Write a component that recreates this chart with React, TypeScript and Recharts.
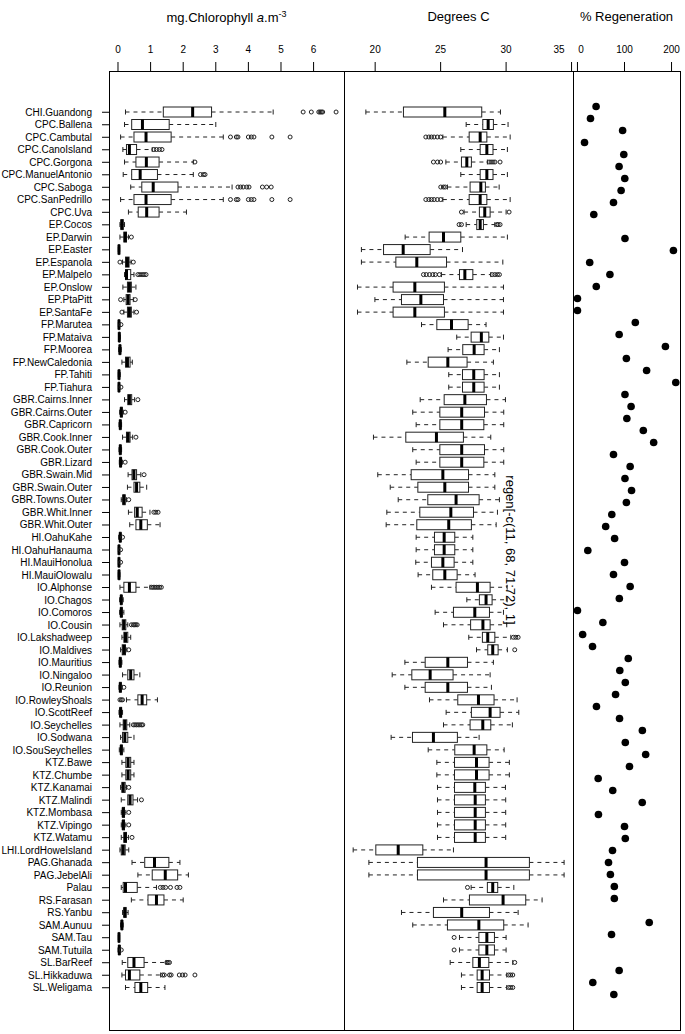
import React from 'react';
import { Bar, ComposedChart, Scatter, ScatterChart, XAxis, YAxis } from 'recharts';

const FONT = '"Liberation Sans", Arial, Helvetica, sans-serif';
const INK = '#222';

const sites = [
  'CHI.Guandong', 'CPC.Ballena', 'CPC.Cambutal', 'CPC.CanoIsland', 'CPC.Gorgona', 'CPC.ManuelAntonio',
  'CPC.Saboga', 'CPC.SanPedrillo', 'CPC.Uva',
  'EP.Cocos', 'EP.Darwin', 'EP.Easter', 'EP.Espanola', 'EP.Malpelo', 'EP.Onslow', 'EP.PtaPitt', 'EP.SantaFe',
  'FP.Marutea', 'FP.Mataiva', 'FP.Moorea', 'FP.NewCaledonia', 'FP.Tahiti', 'FP.Tiahura',
  'GBR.Cairns.Inner', 'GBR.Cairns.Outer', 'GBR.Capricorn', 'GBR.Cook.Inner', 'GBR.Cook.Outer', 'GBR.Lizard',
  'GBR.Swain.Mid', 'GBR.Swain.Outer', 'GBR.Towns.Outer', 'GBR.Whit.Inner', 'GBR.Whit.Outer',
  'HI.OahuKahe', 'HI.OahuHanauma', 'HI.MauiHonolua', 'HI.MauiOlowalu',
  'IO.Alphonse', 'IO.Chagos', 'IO.Comoros', 'IO.Cousin', 'IO.Lakshadweep', 'IO.Maldives', 'IO.Mauritius',
  'IO.Ningaloo', 'IO.Reunion', 'IO.RowleyShoals', 'IO.ScottReef', 'IO.Seychelles', 'IO.Sodwana', 'IO.SouSeychelles',
  'KTZ.Bawe', 'KTZ.Chumbe', 'KTZ.Kanamai', 'KTZ.Malindi', 'KTZ.Mombasa', 'KTZ.Vipingo', 'KTZ.Watamu',
  'LHI.LordHoweIsland', 'PAG.Ghanada', 'PAG.JebelAli', 'Palau', 'RS.Farasan', 'RS.Yanbu',
  'SAM.Aunuu', 'SAM.Tau', 'SAM.Tutuila', 'SL.BarReef', 'SL.Hikkaduwa', 'SL.Weligama',
];

// chlorophyll: [lower whisker, q1, median, q3, upper whisker]
const chlStats = [
  [0.23, 1.39, 2.29, 2.87, 4.76], [0.2, 0.42, 0.75, 1.57, 3.0], [0.08, 0.49, 0.86, 1.63, 3.23],
  [0.15, 0.26, 0.35, 0.57, 1.05], [0.2, 0.55, 0.87, 1.26, 2.31], [0.16, 0.42, 0.68, 1.21, 2.31],
  [0.39, 0.73, 1.08, 1.84, 3.5], [0.08, 0.49, 0.86, 1.63, 3.23], [0.32, 0.62, 0.88, 1.26, 2.1],
  [0.06, 0.09, 0.12, 0.16, 0.2], [0.06, 0.18, 0.22, 0.26, 0.32], [0.01, 0.02, 0.03, 0.04, 0.05],
  [0.14, 0.23, 0.29, 0.34, 0.4], [0.2, 0.23, 0.26, 0.39, 0.49], [0.15, 0.29, 0.35, 0.41, 0.55],
  [0.18, 0.25, 0.31, 0.37, 0.47], [0.18, 0.29, 0.35, 0.41, 0.49],
  [0.01, 0.02, 0.03, 0.04, 0.06], [0.02, 0.03, 0.04, 0.05, 0.07], [0.02, 0.04, 0.06, 0.08, 0.1],
  [0.12, 0.23, 0.29, 0.37, 0.44], [0.01, 0.02, 0.03, 0.05, 0.07], [0.01, 0.02, 0.03, 0.04, 0.06],
  [0.2, 0.3, 0.35, 0.42, 0.51], [0.05, 0.08, 0.1, 0.13, 0.16], [0.03, 0.05, 0.07, 0.09, 0.11],
  [0.14, 0.26, 0.31, 0.37, 0.45], [0.03, 0.05, 0.07, 0.09, 0.11], [0.04, 0.06, 0.08, 0.1, 0.14],
  [0.31, 0.43, 0.49, 0.57, 0.7], [0.29, 0.49, 0.57, 0.67, 0.88], [0.1, 0.15, 0.18, 0.22, 0.26],
  [0.32, 0.51, 0.59, 0.74, 0.98], [0.36, 0.55, 0.7, 0.9, 1.29],
  [0.02, 0.05, 0.07, 0.09, 0.11], [0.01, 0.02, 0.03, 0.04, 0.05], [0.01, 0.02, 0.03, 0.04, 0.05],
  [0.01, 0.02, 0.03, 0.05, 0.06],
  [0.06, 0.18, 0.35, 0.55, 0.98], [0.05, 0.08, 0.1, 0.12, 0.16], [0.05, 0.08, 0.1, 0.13, 0.18],
  [0.06, 0.13, 0.18, 0.24, 0.3], [0.12, 0.18, 0.23, 0.3, 0.39], [0.08, 0.13, 0.18, 0.23, 0.27],
  [0.03, 0.05, 0.07, 0.09, 0.12], [0.14, 0.3, 0.39, 0.49, 0.67], [0.03, 0.05, 0.07, 0.1, 0.13],
  [0.26, 0.61, 0.74, 0.88, 1.21], [0.03, 0.06, 0.08, 0.11, 0.14], [0.06, 0.16, 0.21, 0.27, 0.36],
  [0.08, 0.14, 0.21, 0.3, 0.49], [0.04, 0.08, 0.1, 0.13, 0.18],
  [0.12, 0.24, 0.31, 0.39, 0.49], [0.12, 0.24, 0.31, 0.39, 0.49], [0.08, 0.12, 0.16, 0.22, 0.26],
  [0.1, 0.3, 0.37, 0.46, 0.6], [0.1, 0.14, 0.16, 0.2, 0.24], [0.1, 0.14, 0.16, 0.2, 0.24],
  [0.1, 0.18, 0.22, 0.26, 0.32],
  [0.06, 0.1, 0.16, 0.22, 0.33], [0.43, 0.82, 1.12, 1.56, 1.9], [0.61, 1.05, 1.45, 1.83, 2.16],
  [0.1, 0.16, 0.23, 0.59, 1.18], [0.41, 0.92, 1.18, 1.41, 2.0], [0.14, 0.18, 0.21, 0.25, 0.31],
  [0.08, 0.1, 0.12, 0.14, 0.16], [0.01, 0.02, 0.03, 0.04, 0.05], [0.0, 0.02, 0.04, 0.06, 0.08],
  [0.13, 0.3, 0.49, 0.8, 1.47], [0.12, 0.23, 0.35, 0.67, 1.31], [0.23, 0.52, 0.7, 0.91, 1.44],
];

const chlOutliers = [
  [5.68, 5.93, 6.16, 6.2, 6.24, 6.28, 6.69], [], [3.45, 3.63, 3.68, 4.0, 4.09, 4.17, 4.72, 5.28],
  [1.1, 1.18, 1.27, 1.35], [2.36], [2.53, 2.62, 2.67],
  [3.68, 3.76, 3.84, 3.95, 4.02, 4.43, 4.56, 4.7], [3.45, 3.63, 3.68, 4.0, 4.09, 4.17, 4.72, 5.28], [],
  [], [0.41], [],
  [0.06, 0.47], [0.61, 0.67, 0.74, 0.8, 0.86], [],
  [0.08, 0.53], [0.12, 0.57],
  [0.09], [], [],
  [], [], [0.09],
  [0.61], [0.22], [],
  [0.55], [], [0.22],
  [0.8], [], [0.33],
  [1.1, 1.16, 1.23], [],
  [0.14], [0.08], [0.08],
  [],
  [1.03, 1.08, 1.13, 1.18, 1.23, 1.28, 1.33], [], [],
  [0.41, 0.47, 0.51, 0.55, 0.59], [], [0.33],
  [], [], [0.18],
  [0.06, 0.1, 0.14], [], [0.47, 0.52, 0.57, 0.62, 0.67, 0.72, 0.76],
  [], [],
  [], [], [0.33],
  [0.72], [0.33], [0.33],
  [0.43],
  [], [], [],
  [1.3, 1.38, 1.46, 1.61, 1.81, 1.9], [], [],
  [], [], [0.1],
  [1.5, 1.54, 1.58], [1.37, 1.42, 1.58, 1.63, 1.88, 1.98, 2.06, 2.36], [],
];

// temperature: [lower whisker, q1, median, q3, upper whisker]
const tempStats = [
  [19.29, 22.16, 25.32, 28.14, 29.57], [26.95, 28.22, 28.63, 29.03, 30.15], [25.17, 27.18, 28.02, 28.53, 30.31],
  [26.54, 28.02, 28.53, 29.0, 30.1], [25.4, 26.59, 27.0, 27.35, 28.57], [26.54, 28.02, 28.53, 29.0, 30.1],
  [25.52, 27.25, 28.07, 28.42, 29.47], [25.17, 27.18, 28.02, 28.53, 30.31], [26.79, 27.96, 28.37, 28.78, 30.0],
  [26.95, 27.76, 28.02, 28.27, 29.14], [22.29, 24.12, 25.22, 26.54, 30.1], [18.95, 20.64, 22.14, 24.2, 26.67],
  [18.95, 21.58, 23.18, 25.45, 29.75], [25.06, 26.44, 26.85, 27.46, 28.83], [18.65, 21.37, 23.03, 25.29, 29.8],
  [19.98, 22.01, 23.49, 25.22, 29.8], [18.65, 21.37, 23.03, 25.29, 29.8],
  [23.54, 24.71, 25.83, 27.1, 28.47], [26.23, 27.33, 28.11, 28.68, 29.8], [25.57, 26.69, 27.56, 28.32, 29.49],
  [22.42, 24.05, 25.55, 27.02, 29.03], [25.62, 26.67, 27.53, 28.32, 29.49], [25.62, 26.67, 27.53, 28.32, 29.49],
  [23.44, 25.27, 26.85, 28.5, 29.95], [22.87, 24.94, 26.61, 28.35, 29.82], [23.13, 24.94, 26.61, 28.3, 29.82],
  [19.87, 22.34, 24.68, 26.74, 28.83], [22.87, 24.94, 26.61, 28.35, 29.82], [23.13, 24.94, 26.61, 28.3, 29.82],
  [20.2, 22.75, 25.17, 27.13, 29.14], [21.15, 23.26, 25.32, 27.13, 29.14], [21.76, 24.02, 26.18, 27.94, 29.49],
  [20.89, 23.41, 25.78, 27.51, 29.34], [20.84, 23.18, 25.62, 27.35, 29.24],
  [23.13, 24.53, 25.27, 26.08, 27.46], [23.13, 24.53, 25.27, 26.08, 27.46], [23.1, 24.3, 25.17, 26.03, 27.46],
  [23.28, 24.4, 25.32, 26.26, 27.63],
  [24.3, 26.18, 27.81, 28.78, 30.08], [27.0, 27.96, 28.47, 28.93, 30.08], [24.58, 25.98, 27.61, 28.73, 29.8],
  [25.22, 27.29, 28.23, 28.78, 30.05], [27.15, 28.19, 28.6, 29.14, 30.36], [27.74, 28.6, 28.98, 29.39, 30.1],
  [22.27, 23.82, 25.55, 27.05, 29.03], [21.3, 22.8, 24.2, 25.95, 28.78], [22.27, 23.82, 25.55, 27.05, 28.88],
  [24.15, 26.31, 27.89, 29.08, 30.84], [25.42, 27.35, 28.78, 29.54, 30.97], [25.22, 27.25, 28.22, 28.83, 30.48],
  [21.22, 22.85, 24.45, 26.28, 27.94], [24.05, 26.08, 27.56, 28.53, 29.85],
  [24.71, 26.06, 27.74, 28.7, 30.25], [24.71, 26.06, 27.74, 28.7, 30.25], [24.76, 26.06, 27.61, 28.42, 29.95],
  [24.76, 26.06, 27.64, 28.42, 29.97], [24.76, 26.06, 27.64, 28.42, 29.97], [24.76, 26.06, 27.64, 28.42, 29.97],
  [24.76, 26.06, 27.64, 28.42, 29.97],
  [18.32, 20.05, 21.76, 23.64, 25.98], [19.52, 23.23, 28.47, 31.78, 34.43], [19.52, 23.23, 28.47, 31.78, 34.43],
  [27.33, 28.57, 28.98, 29.36, 30.59], [25.22, 27.2, 29.77, 31.5, 32.75], [22.01, 24.45, 26.61, 28.73, 30.92],
  [22.87, 25.52, 27.92, 29.82, 31.68], [26.44, 27.92, 28.53, 29.11, 30.0], [26.44, 27.92, 28.53, 29.11, 30.0],
  [25.73, 27.46, 27.96, 28.68, 30.51], [26.59, 27.79, 28.17, 28.73, 30.05], [26.59, 27.79, 28.17, 28.73, 30.05],
];

const tempOutliers = [
  [], [], [23.87, 24.1, 24.3, 24.5, 24.75, 25.0],
  [], [24.45, 24.76, 25.0, 28.7, 28.85, 29.0, 29.15, 29.54], [],
  [25.01, 25.21, 25.35], [23.87, 24.1, 24.3, 24.5, 24.75, 25.0], [26.59, 30.23],
  [26.41, 26.59, 29.29, 29.39, 29.54], [], [],
  [], [23.69, 23.9, 24.15, 24.4, 24.6, 24.9, 28.94, 29.14, 29.34, 29.49], [],
  [], [],
  [], [], [],
  [], [], [],
  [], [], [],
  [], [], [],
  [], [], [],
  [], [],
  [], [], [],
  [],
  [], [], [],
  [], [30.56, 30.74, 30.92], [30.66],
  [], [], [],
  [], [], [],
  [], [],
  [], [], [],
  [], [], [],
  [],
  [], [], [],
  [27.05], [], [],
  [], [26.03], [26.03],
  [30.66], [30.2, 30.35, 30.51], [30.2, 30.35, 30.51],
];

// % regeneration, 75 slots (11, 68, 71 and 72 left out)
const regen = [
  39.6, 27.7, 96, 15, 98.5, 88.5, 100.6, 92.8, 76.6, 34.7,
  null,
  101, 204, 26, 69, 40, 0, 0, 123,
  88.6, 187, 104, 147, 209, 101, 114, 105, 140, 162,
  76.6, 112, 101, 115, 104, 73, 60, 79, 22, 100,
  76.6, 112, 89, 0, 54, 11, 32, 108, 90, 101.7,
  81, 40.4, 89.4, 138, 101.7, 145, 110.6, 44, 75, 137.7,
  44.6, 100, 101.7, 74.5, 66, 70, 78.4, 78.4,
  null,
  152.6, 72.4,
  null, null,
  88.6, 32.6, 77.3,
];

const chlTicks = [0, 1, 2, 3, 4, 5, 6];
const tempTicks = [20, 25, 30, 35];
const regenTicks = [0, 50, 100, 150, 200];

const buildRows = (stats: number[][], outliers: number[][]) =>
  sites.map((name, i) => ({
    name,
    range: [stats[i][0], stats[i][4]],
    stats: stats[i],
    out: outliers[i],
  }));

const chlRows = buildRows(chlStats, chlOutliers);
const tempRows = buildRows(tempStats, tempOutliers);
const regenPoints = regen
  .map((v, i) => ({ slot: i + 1, v }))
  .filter((p) => p.v !== null);

// box drawn inside the whisker-to-whisker bar that recharts places
const BoxShape = (props: any) => {
  const { x, y, width, height, payload } = props;
  const [lo, q1, med, q3, hi] = payload.stats;
  const px = (v: number) => x + ((v - lo) / (hi - lo)) * width;
  const cy = y + height / 2;
  const cap = 2.5;
  return (
    <g>
      <line x1={px(lo)} x2={px(q1)} y1={cy} y2={cy} stroke={INK} strokeDasharray="4 4" />
      <line x1={px(q3)} x2={px(hi)} y1={cy} y2={cy} stroke={INK} strokeDasharray="4 4" />
      <line x1={px(lo)} x2={px(lo)} y1={cy - cap} y2={cy + cap} stroke={INK} />
      <line x1={px(hi)} x2={px(hi)} y1={cy - cap} y2={cy + cap} stroke={INK} />
      <rect x={px(q1)} y={y} width={px(q3) - px(q1)} height={height} fill="#fff" stroke={INK} />
      <line x1={px(med)} x2={px(med)} y1={y} y2={y + height} stroke="#000" strokeWidth={3} />
      {payload.out.map((v: number, j: number) => (
        <circle key={j} cx={px(v)} cy={cy} r={2} fill="none" stroke={INK} />
      ))}
    </g>
  );
};

const topTick = (labels: Record<number, string>, shifts: Record<number, number>) => (p: any) => {
  const v = p.payload.value;
  const label = labels[v] !== undefined ? labels[v] : String(v);
  return (
    <text x={p.x + (shifts[v] || 0)} y={p.y} textAnchor="middle" fontSize={10} fontFamily={FONT} fill="#000">
      {label}
    </text>
  );
};

const siteTick = (p: any) => (
  <text x={p.x} y={p.y + 3.5} textAnchor="end" fontSize={10} fontFamily={FONT} fill="#000">
    {p.payload.value}
  </text>
);

const TOP = 71;
const BOTTOM = 1030;
const XH = 50;
const H = 1034;
const margin = { top: TOP - XH, right: 0, bottom: H - BOTTOM, left: 0 };

const titleStyle: React.CSSProperties = {
  position: 'absolute',
  top: 9,
  textAlign: 'center',
  fontFamily: FONT,
  fontSize: 13,
  color: '#000',
  whiteSpace: 'nowrap',
};

export default function App() {
  return (
    <div style={{ position: 'absolute', left: 0, top: 0, width: 685, height: H, background: '#fff' }}>
      <div style={{ ...titleStyle, left: 109, width: 235 }}>
        mg.Chlorophyll <i>a</i>.m<sup style={{ fontSize: 9 }}>-3</sup>
      </div>
      <div style={{ ...titleStyle, left: 344, width: 229 }}>Degrees C</div>
      <div style={{ ...titleStyle, left: 573, width: 107 }}>% Regeneration</div>

      <div style={{ position: 'absolute', left: 0, top: 0 }}>
        <ComposedChart layout="vertical" width={344} height={H} data={chlRows} margin={margin}>
          <XAxis
            type="number"
            orientation="top"
            domain={[-0.276, 6.933]}
            allowDataOverflow
            ticks={chlTicks}
            height={XH}
            tickSize={9}
            tickMargin={9}
            axisLine={false}
            tickLine={{ stroke: '#000' }}
            tick={topTick({}, {})}
          />
          <YAxis
            type="category"
            dataKey="name"
            width={109}
            interval={0}
            tickSize={7}
            tickMargin={10}
            axisLine={false}
            tickLine={{ stroke: '#000' }}
            padding={{ top: 35, bottom: 36 }}
            tick={siteTick}
          />
          <Bar dataKey="range" barSize={10} shape={BoxShape} isAnimationActive={false} />
        </ComposedChart>
      </div>

      <div style={{ position: 'absolute', left: 344, top: 0 }}>
        <ComposedChart layout="vertical" width={229} height={H} data={tempRows} margin={margin}>
          <XAxis
            type="number"
            orientation="top"
            domain={[17.62, 35.11]}
            allowDataOverflow
            ticks={tempTicks}
            height={XH}
            tickSize={9}
            tickMargin={9}
            axisLine={false}
            tickLine={{ stroke: '#000' }}
            tick={topTick({}, { 35: -6 })}
          />
          <YAxis type="category" dataKey="name" hide padding={{ top: 35, bottom: 36 }} />
          <Bar dataKey="range" barSize={10} shape={BoxShape} isAnimationActive={false} />
        </ComposedChart>
      </div>

      <div style={{ position: 'absolute', left: 573, top: 0 }}>
        <ScatterChart width={112} height={H} margin={{ ...margin, right: 5 }}>
          <XAxis
            type="number"
            dataKey="v"
            orientation="top"
            domain={[-9.5, 218]}
            allowDataOverflow
            ticks={regenTicks}
            height={XH}
            tickSize={9}
            tickMargin={9}
            axisLine={false}
            tickLine={{ stroke: '#000' }}
            tick={topTick({ 150: '' }, { 0: 3.5 })}
          />
          <YAxis type="number" dataKey="slot" hide reversed domain={[-1.96, 77.96]} allowDataOverflow />
          <Scatter
            data={regenPoints}
            isAnimationActive={false}
            shape={(p: any) => <circle cx={p.cx} cy={p.cy} r={3.8} fill="#000" />}
          />
        </ScatterChart>
      </div>

      {/* panel frames */}
      <div
        style={{
          position: 'absolute',
          left: 109,
          top: TOP,
          width: 572,
          height: BOTTOM - TOP + 1,
          border: '1px solid #000',
          boxSizing: 'border-box',
          pointerEvents: 'none',
        }}
      />
      <div style={{ position: 'absolute', left: 344, top: TOP, width: 1, height: BOTTOM - TOP, background: '#000' }} />
      <div style={{ position: 'absolute', left: 573, top: TOP, width: 1, height: BOTTOM - TOP, background: '#000' }} />

      <div
        style={{
          position: 'absolute',
          left: 510,
          top: 550,
          transform: 'translate(-50%, -50%) rotate(90deg)',
          fontFamily: FONT,
          fontSize: 13,
          whiteSpace: 'nowrap',
          color: '#000',
        }}
      >
        regen[-c(11, 68, 71:72), 1]
      </div>
    </div>
  );
}
